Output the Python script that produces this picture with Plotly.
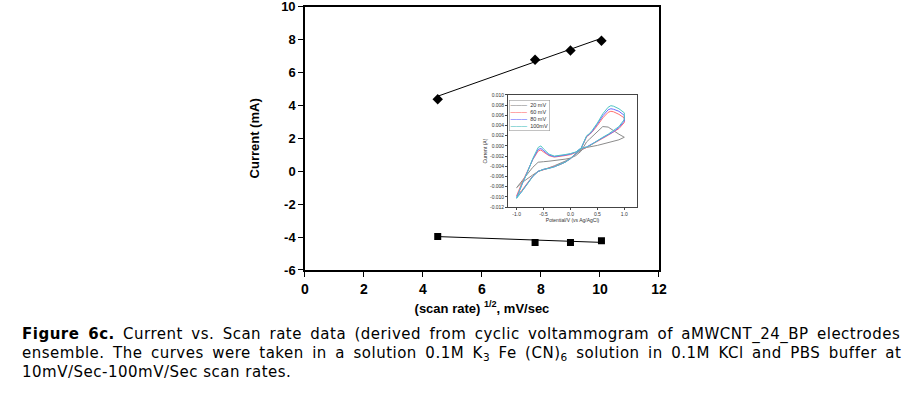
import plotly.graph_objects as go

# ---- main chart data ----
sqrt_scan = [4.5, 7.8, 9.0, 10.05]
anodic_current = [4.38, 6.78, 7.34, 7.93]
cathodic_current = [-3.97, -4.33, -4.33, -4.23]
fit_x = [4.5, 10.0]
anodic_fit = [4.56, 8.05]
cathodic_fit = [-3.97, -4.32]
x_ticks = [0, 2, 4, 6, 8, 10, 12]
y_ticks = [-6, -4, -2, 0, 2, 4, 6, 8, 10]
y_ticktext = ["-6", "-4", "-2", "0", "2", "4", "6", "8", "10"]

# ---- inset CV data (potential V vs Ag/AgCl, current A) ----
potential = [-1.0, -0.9, -0.8, -0.7, -0.6, -0.55, -0.5, -0.4, -0.3, -0.2, -0.1, 0.0, 0.1, 0.2, 0.25, 0.3, 0.35, 0.4, 0.5, 0.6, 0.7, 0.75, 0.8, 0.9, 1.0,
             1.0, 0.9, 0.8, 0.7, 0.6, 0.5, 0.4, 0.35, 0.3, 0.2, 0.1, 0.0, -0.1, -0.2, -0.3, -0.4, -0.5, -0.6, -0.7, -0.8, -0.9, -1.0]
cv_20 = [-0.0082, -0.0068, -0.0055, -0.0042, -0.0032, -0.0031, -0.0031, -0.0030, -0.0029, -0.0028, -0.0026, -0.0024, -0.0019, -0.0010, 0.0000, 0.0008, 0.0013, 0.0018, 0.0028, 0.0038, 0.0037, 0.0034, 0.0030, 0.0023, 0.0017,
         0.0017, 0.0012, 0.0009, 0.0006, 0.0003, 0.0001, -0.0001, -0.0002, -0.0003, -0.0008, -0.0016, -0.0024, -0.0030, -0.0035, -0.0039, -0.0043, -0.0046, -0.0050, -0.0057, -0.0064, -0.0072, -0.0082]
cv_60 = [-0.0098, -0.0072, -0.0050, -0.0027, -0.0010, -0.0008, -0.0012, -0.0019, -0.0022, -0.0021, -0.0019, -0.0017, -0.0013, -0.0005, 0.0008, 0.0018, 0.0022, 0.0027, 0.0040, 0.0055, 0.0066, 0.0068, 0.0067, 0.0062, 0.0055,
         0.0046, 0.0034, 0.0027, 0.0021, 0.0015, 0.0009, 0.0002, -0.0001, -0.0003, -0.0006, -0.0016, -0.0025, -0.0032, -0.0037, -0.0040, -0.0043, -0.0046, -0.0050, -0.0059, -0.0073, -0.0087, -0.0098]
cv_80 = [-0.0101, -0.0074, -0.0051, -0.0026, -0.0007, -0.0005, -0.0009, -0.0018, -0.0021, -0.0020, -0.0018, -0.0016, -0.0012, -0.0004, 0.0009, 0.0019, 0.0023, 0.0028, 0.0043, 0.0059, 0.0071, 0.0073, 0.0072, 0.0068, 0.0060,
         0.0049, 0.0036, 0.0028, 0.0022, 0.0016, 0.0010, 0.0003, 0.0000, -0.0002, -0.0005, -0.0015, -0.0025, -0.0032, -0.0037, -0.0041, -0.0044, -0.0046, -0.0050, -0.0060, -0.0074, -0.0089, -0.0101]
cv_100 = [-0.0103, -0.0075, -0.0052, -0.0025, -0.0003, 0.0000, -0.0006, -0.0016, -0.0020, -0.0019, -0.0017, -0.0015, -0.0012, -0.0004, 0.0010, 0.0020, 0.0024, 0.0030, 0.0045, 0.0063, 0.0076, 0.0079, 0.0078, 0.0073, 0.0065,
          0.0052, 0.0038, 0.0030, 0.0023, 0.0017, 0.0010, 0.0003, 0.0000, -0.0002, -0.0005, -0.0015, -0.0025, -0.0032, -0.0037, -0.0041, -0.0044, -0.0046, -0.0050, -0.0060, -0.0075, -0.0090, -0.0103]
cv_labels = ["20 mV", "60 mV", "80 mV", "100mV"]
cv_colors = ["#8c8c8c", "#ff7070", "#6a6aff", "#4fc4c4"]
inset_xticks = [-1.0, -0.5, 0.0, 0.5, 1.0]
inset_xtext = ["-1.0", "-0.5", "0.0", "0.5", "1.0"]
inset_yticks = [0.010, 0.008, 0.006, 0.004, 0.002, 0.000, -0.002, -0.004, -0.006, -0.008, -0.010, -0.012]
inset_ytext = ["0.010", "0.008", "0.006", "0.004", "0.002", "0.000", "-0.002", "-0.004", "-0.006", "-0.008", "-0.010", "-0.012"]

fig = go.Figure()

fig.add_trace(go.Scatter(x=fit_x, y=anodic_fit, mode="lines", line=dict(color="black", width=1), showlegend=False))
fig.add_trace(go.Scatter(x=fit_x, y=cathodic_fit, mode="lines", line=dict(color="black", width=1), showlegend=False))
fig.add_trace(go.Scatter(x=sqrt_scan, y=anodic_current, mode="markers",
                         marker=dict(symbol="diamond", size=8, color="black"), showlegend=False))
fig.add_trace(go.Scatter(x=sqrt_scan, y=cathodic_current, mode="markers",
                         marker=dict(symbol="square", size=7, color="black"), showlegend=False))

for lab, col, ys in zip(cv_labels, cv_colors, [cv_20, cv_60, cv_80, cv_100]):
    fig.add_trace(go.Scatter(x=potential, y=ys, mode="lines", name=lab, showlegend=False,
                             line=dict(color=col, width=1), xaxis="x2", yaxis="y2"))

main_font = "Liberation Sans, Arial, sans-serif"
fig.update_layout(
    width=915, height=395,
    margin=dict(l=0, r=0, t=0, b=0),
    paper_bgcolor="white", plot_bgcolor="white",
    showlegend=False,
    xaxis=dict(domain=[0.3333, 0.7202], range=[0, 12], tickvals=x_ticks, automargin=False,
               ticklabeloverflow="allow",
               showline=True, mirror=True, linecolor="black", linewidth=1.5,
               ticks="outside", ticklen=5, tickcolor="black", showgrid=False, zeroline=False,
               tickfont=dict(family=main_font, size=14, color="black", weight="bold"),
               title=dict(text="(scan rate) <sup>1/2</sup>, mV/sec", standoff=8,
                          font=dict(family=main_font, size=13, color="black", weight="bold"))),
    yaxis=dict(domain=[0.3165, 0.983], range=[-6, 10], tickvals=y_ticks, ticktext=y_ticktext,
               automargin=False, ticklabeloverflow="allow",
               showline=True, mirror=True, linecolor="black", linewidth=1.5,
               ticks="outside", ticklen=5, tickcolor="black", showgrid=False, zeroline=False,
               tickfont=dict(family=main_font, size=13, color="black", weight="bold"),
               title=dict(text="Current (mA)", standoff=19,
                          font=dict(family=main_font, size=13, color="black", weight="bold"))),
    xaxis2=dict(domain=[0.5552, 0.6962], range=[-1.16, 1.236], anchor="y2", tickvals=inset_xticks,
                ticktext=inset_xtext, automargin=False,
                showline=True, mirror=True, linecolor="#444", linewidth=0.7,
                ticks="outside", ticklen=2, tickcolor="#444", showgrid=False, zeroline=False,
                tickfont=dict(family=main_font, size=5, color="#333"),
                title=dict(text="Potential/V (vs Ag/AgCl)", standoff=1,
                           font=dict(family=main_font, size=5, color="#333"))),
    yaxis2=dict(domain=[0.4759, 0.7595], range=[-0.012, 0.010], anchor="x2", tickvals=inset_yticks,
                ticktext=inset_ytext, automargin=False,
                showline=True, mirror=True, linecolor="#444", linewidth=0.7,
                ticks="outside", ticklen=2, tickcolor="#444", showgrid=False, zeroline=False,
                tickfont=dict(family=main_font, size=5, color="#333"),
                title=dict(text="Current (A)", standoff=2,
                           font=dict(family=main_font, size=5, color="#333"))),
)

# compact inset legend (built from the series labels/colours)
legend_text = "<br>".join(
    f"<span style='color:{c}'><b>———</b></span>  {l}" for l, c in zip(cv_labels, cv_colors)
)
fig.add_annotation(text=legend_text, xref="paper", yref="paper", x=0.5564, y=0.748,
                   xanchor="left", yanchor="top", align="left", showarrow=False,
                   font=dict(family=main_font, size=5.5, color="#333"),
                   bgcolor="white", bordercolor="#999", borderwidth=0.6, borderpad=1)

cap_font = "DejaVu Sans, Verdana, sans-serif"
caption_lines = [
    "<span style='word-spacing:3.1px;letter-spacing:0.5px'><b>Figure 6c.</b> Current vs. Scan rate data (derived from cyclic voltammogram of aMWCNT_24_BP electrodes</span>",
    "<span style='word-spacing:3.2px;letter-spacing:0.5px'>ensemble. The curves were taken in a solution 0.1M K<sub>3</sub> Fe (CN)<sub>6</sub> solution in 0.1M KCl and PBS buffer at</span>",
    "<span style='letter-spacing:0.5px'>10mV/Sec-100mV/Sec scan rates.</span>",
]
caption_y = [0.1544, 0.1063, 0.0582]
for txt, yy in zip(caption_lines, caption_y):
    fig.add_annotation(text=txt, xref="paper", yref="paper", x=0.0219, y=yy,
                       xanchor="left", yanchor="middle", showarrow=False,
                       font=dict(family=cap_font, size=15, color="black"))

fig.write_html("out.html", config={"displayModeBar": False},
               post_script="document.body.style.margin='0px';")
